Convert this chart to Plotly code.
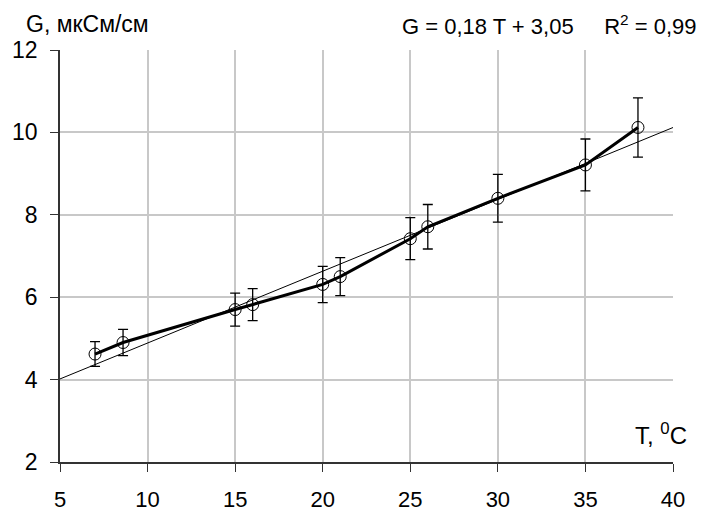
import numpy as np
import plotly.graph_objects as go

# Data
T = [7, 8.6, 15, 16, 20, 21, 25, 26, 30, 35, 38]
G = [4.62, 4.9, 5.7, 5.82, 6.31, 6.5, 7.42, 7.71, 8.4, 9.21, 10.12]
G_err = [0.30, 0.32, 0.40, 0.39, 0.44, 0.46, 0.51, 0.54, 0.58, 0.63, 0.72]

x_ticks = [5, 10, 15, 20, 25, 30, 35, 40]
y_ticks = [2, 4, 6, 8, 10, 12]

# Linear trend (least-squares) over the axis range
slope, intercept = np.polyfit(T, G, 1)
trend_x = [x_ticks[0], x_ticks[-1]]
trend_y = [slope * v + intercept for v in trend_x]

FONT = "Liberation Sans, Arial, sans-serif"

fig = go.Figure()
fig.add_trace(go.Scatter(
    x=trend_x, y=trend_y, mode="lines",
    line=dict(color="black", width=1), hoverinfo="skip", showlegend=False,
))
fig.add_trace(go.Scatter(
    x=T, y=G, mode="lines+markers",
    line=dict(color="black", width=3),
    marker=dict(symbol="circle-open", size=12, color="black", line=dict(width=1)),
    error_y=dict(type="data", array=G_err, visible=True, color="black", thickness=1.3, width=5),
    showlegend=False,
))

fig.update_layout(
    width=701, height=513,
    margin=dict(l=60, r=28, t=50, b=51),
    paper_bgcolor="white", plot_bgcolor="white",
    font=dict(family=FONT, color="black"),
    xaxis=dict(
        range=[5, 40], tickvals=x_ticks, ticktext=[str(v) for v in x_ticks],
        showgrid=True, gridcolor="#c8c8c8", gridwidth=1.5,
        showline=True, linecolor="#333333", linewidth=1.5,
        ticks="outside", ticklen=8, tickcolor="#333333", tickwidth=1.2,
        tickfont=dict(size=22, family=FONT), zeroline=False,
        ticklabelstandoff=9, automargin=False,
    ),
    yaxis=dict(
        range=[2, 12], tickvals=y_ticks, ticktext=[str(v) for v in y_ticks],
        showgrid=True, gridcolor="#c8c8c8", gridwidth=1.5,
        showline=True, linecolor="#333333", linewidth=1.5,
        ticks="outside", ticklen=8, tickcolor="#333333", tickwidth=1.2,
        tickfont=dict(size=23, family=FONT), zeroline=False,
        ticklabelstandoff=8, automargin=False,
    ),
    annotations=[
        dict(text="G, мкСм/см", xref="paper", yref="paper", x=-0.0588, y=1.063,
             xanchor="left", yanchor="middle", showarrow=False,
             font=dict(size=23, family=FONT)),
        dict(text="G = 0,18 T + 3,05 &nbsp; &nbsp; R<sup>2</sup> = 0,99", xref="paper", yref="paper",
             x=1.0416, y=1.06, xanchor="right", yanchor="middle", showarrow=False,
             font=dict(size=22, family=FONT)),
        dict(text="T, <sup>0</sup>C", xref="paper", yref="paper", x=1.026, y=0.067,
             xanchor="right", yanchor="middle", showarrow=False,
             font=dict(size=24, family=FONT)),
    ],
)

fig.write_html("out.html", config={"displayModeBar": False},
               post_script="document.body.style.margin='0';")
